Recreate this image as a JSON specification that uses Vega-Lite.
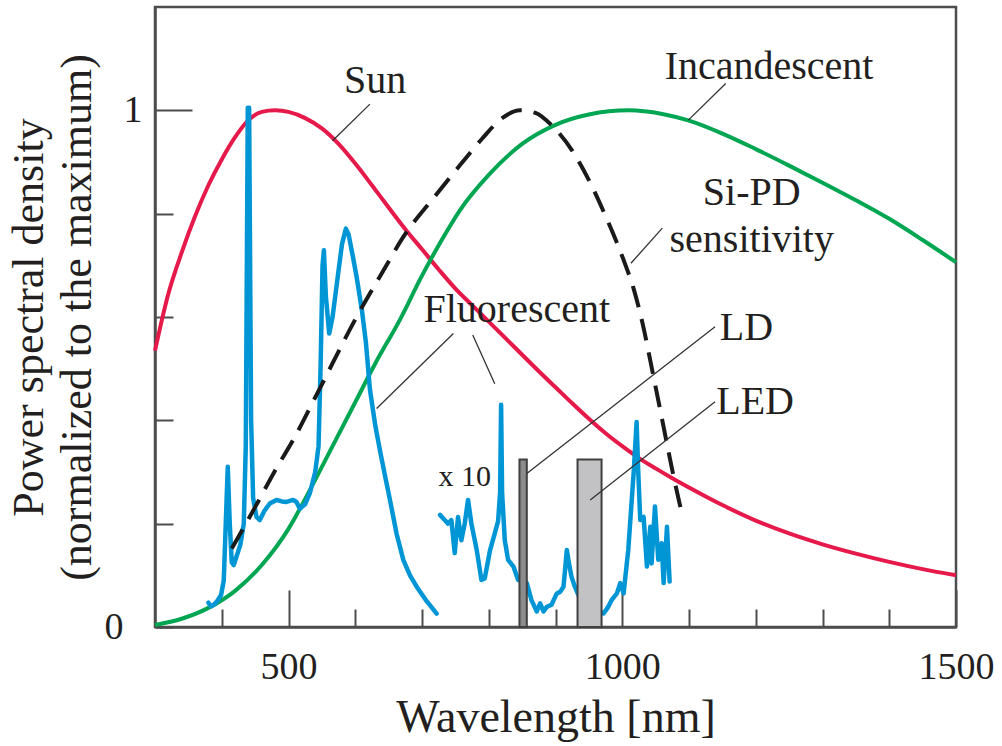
{
 "$schema": "https://vega.github.io/schema/vega-lite/v6.json",
 "width": 801, "height": 620,
 "autosize": {"type": "none"},
 "padding": {"left": 155, "top": 7, "right": 46, "bottom": 119},
 "background": "white",
 "config": {
   "view": {"stroke": "#4d4d4d", "strokeWidth": 2.5},
   "axis": {"grid": false, "domainColor": "#4d4d4d", "domainWidth": 2.5, "tickColor": "#4d4d4d", "tickWidth": 2,
     "labelFont": "Liberation Serif", "labelFontSize": 38, "labelColor": "#231f20",
     "titleFont": "Liberation Serif", "titleFontSize": 44, "titleFontWeight": "normal", "titleColor": "#231f20"}
 },
 "datasets": {
   "sun": [
     {"wl":300,"v":0.535},{"wl":320,"v":0.645},{"wl":340,"v":0.725},{"wl":360,"v":0.795},{"wl":380,"v":0.855},
     {"wl":400,"v":0.905},{"wl":420,"v":0.948},{"wl":440,"v":0.981},{"wl":460,"v":0.997},{"wl":480,"v":1.0},
     {"wl":500,"v":0.997},{"wl":525,"v":0.985},{"wl":550,"v":0.965},{"wl":575,"v":0.935},{"wl":600,"v":0.897},
     {"wl":625,"v":0.855},{"wl":650,"v":0.812},{"wl":675,"v":0.77},{"wl":700,"v":0.731},{"wl":725,"v":0.692},
     {"wl":750,"v":0.655},{"wl":775,"v":0.623},{"wl":800,"v":0.591},{"wl":825,"v":0.559},{"wl":850,"v":0.527},
     {"wl":875,"v":0.495},{"wl":900,"v":0.464},{"wl":925,"v":0.433},{"wl":950,"v":0.403},{"wl":975,"v":0.375},
     {"wl":1000,"v":0.35},{"wl":1025,"v":0.327},{"wl":1050,"v":0.307},{"wl":1075,"v":0.288},{"wl":1100,"v":0.27},
     {"wl":1150,"v":0.236},{"wl":1200,"v":0.206},{"wl":1250,"v":0.181},{"wl":1300,"v":0.16},{"wl":1350,"v":0.142},
     {"wl":1400,"v":0.126},{"wl":1450,"v":0.112},{"wl":1500,"v":0.1}
   ],
   "inc": [
     {"wl":300,"v":0.004},{"wl":340,"v":0.016},{"wl":380,"v":0.037},{"wl":420,"v":0.07},{"wl":460,"v":0.12},
     {"wl":500,"v":0.19},{"wl":530,"v":0.26},{"wl":560,"v":0.335},{"wl":600,"v":0.435},{"wl":630,"v":0.51},
     {"wl":667,"v":0.595},{"wl":700,"v":0.68},{"wl":730,"v":0.75},{"wl":757,"v":0.807},{"wl":800,"v":0.875},
     {"wl":850,"v":0.935},{"wl":900,"v":0.972},{"wl":950,"v":0.992},{"wl":1010,"v":1.0},{"wl":1060,"v":0.993},
     {"wl":1100,"v":0.98},{"wl":1150,"v":0.955},{"wl":1200,"v":0.925},{"wl":1250,"v":0.893},{"wl":1300,"v":0.86},
     {"wl":1350,"v":0.826},{"wl":1400,"v":0.79},{"wl":1450,"v":0.749},{"wl":1500,"v":0.706}
   ],
   "sipd": [
     {"wl":415,"v":0.152},{"wl":450,"v":0.232},{"wl":480,"v":0.303},{"wl":507,"v":0.362},{"wl":547,"v":0.462},
     {"wl":602,"v":0.6},{"wl":640,"v":0.685},{"wl":672,"v":0.755},{"wl":717,"v":0.83},{"wl":757,"v":0.894},
     {"wl":790,"v":0.945},{"wl":820,"v":0.985},{"wl":847,"v":1.0},{"wl":870,"v":0.995},{"wl":895,"v":0.97},
     {"wl":925,"v":0.922},{"wl":950,"v":0.865},{"wl":970,"v":0.81},{"wl":990,"v":0.75},{"wl":1005,"v":0.7},
     {"wl":1017,"v":0.655},{"wl":1030,"v":0.59},{"wl":1046,"v":0.49},{"wl":1060,"v":0.4},{"wl":1076,"v":0.297},{"wl":1091,"v":0.21}
   ],
   "fluor": [
     {"seg":"vis","wl":380,"v":0.047},{"seg":"vis","wl":384,"v":0.04},{"seg":"vis","wl":388,"v":0.043},{"seg":"vis","wl":393,"v":0.05},
     {"seg":"vis","wl":399,"v":0.062},{"seg":"vis","wl":403,"v":0.09},{"seg":"vis","wl":406,"v":0.2},{"seg":"vis","wl":409,"v":0.31},
     {"seg":"vis","wl":412,"v":0.2},{"seg":"vis","wl":415,"v":0.125},{"seg":"vis","wl":418,"v":0.12},{"seg":"vis","wl":422,"v":0.136},
     {"seg":"vis","wl":428,"v":0.16},{"seg":"vis","wl":433,"v":0.2},{"seg":"vis","wl":436,"v":0.35},{"seg":"vis","wl":439,"v":1.005},
     {"seg":"vis","wl":441,"v":1.005},{"seg":"vis","wl":444,"v":0.4},{"seg":"vis","wl":447,"v":0.25},{"seg":"vis","wl":452,"v":0.213},
     {"seg":"vis","wl":457,"v":0.207},{"seg":"vis","wl":464,"v":0.225},{"seg":"vis","wl":472,"v":0.239},{"seg":"vis","wl":482,"v":0.246},
     {"seg":"vis","wl":490,"v":0.243},{"seg":"vis","wl":497,"v":0.242},{"seg":"vis","wl":507,"v":0.246},{"seg":"vis","wl":512,"v":0.242},
     {"seg":"vis","wl":517,"v":0.229},{"seg":"vis","wl":525,"v":0.238},{"seg":"vis","wl":532,"v":0.259},{"seg":"vis","wl":540,"v":0.3},
     {"seg":"vis","wl":545,"v":0.35},{"seg":"vis","wl":548,"v":0.5},{"seg":"vis","wl":551,"v":0.7},{"seg":"vis","wl":553,"v":0.729},
     {"seg":"vis","wl":556,"v":0.64},{"seg":"vis","wl":561,"v":0.568},{"seg":"vis","wl":566,"v":0.6},{"seg":"vis","wl":573,"v":0.67},
     {"seg":"vis","wl":580,"v":0.74},{"seg":"vis","wl":586,"v":0.771},{"seg":"vis","wl":590,"v":0.76},{"seg":"vis","wl":596,"v":0.72},
     {"seg":"vis","wl":602,"v":0.678},{"seg":"vis","wl":610,"v":0.613},{"seg":"vis","wl":616,"v":0.55},{"seg":"vis","wl":622,"v":0.46},
     {"seg":"vis","wl":630,"v":0.39},{"seg":"vis","wl":637,"v":0.342},{"seg":"vis","wl":645,"v":0.29},{"seg":"vis","wl":652,"v":0.246},
     {"seg":"vis","wl":662,"v":0.18},{"seg":"vis","wl":672,"v":0.13},{"seg":"vis","wl":682,"v":0.1},{"seg":"vis","wl":692,"v":0.078},
     {"seg":"vis","wl":707,"v":0.05},{"seg":"vis","wl":722,"v":0.026},
     {"seg":"ir","wl":727,"v":0.217},{"seg":"ir","wl":734,"v":0.207},{"seg":"ir","wl":739,"v":0.2},{"seg":"ir","wl":744,"v":0.207},
     {"seg":"ir","wl":749,"v":0.143},{"seg":"ir","wl":754,"v":0.213},{"seg":"ir","wl":759,"v":0.168},{"seg":"ir","wl":764,"v":0.2},
     {"seg":"ir","wl":769,"v":0.246},{"seg":"ir","wl":774,"v":0.2},{"seg":"ir","wl":782,"v":0.149},{"seg":"ir","wl":789,"v":0.091},
     {"seg":"ir","wl":794,"v":0.094},{"seg":"ir","wl":802,"v":0.149},{"seg":"ir","wl":809,"v":0.181},{"seg":"ir","wl":814,"v":0.205},
     {"seg":"ir","wl":817,"v":0.26},{"seg":"ir","wl":818.5,"v":0.43},{"seg":"ir","wl":820,"v":0.26},{"seg":"ir","wl":824,"v":0.168},
     {"seg":"ir","wl":829,"v":0.13},{"seg":"ir","wl":837,"v":0.117},{"seg":"ir","wl":844,"v":0.091},{"seg":"ir","wl":850,"v":0.09},
     {"seg":"ir","wl":857,"v":0.085},{"seg":"ir","wl":864,"v":0.052},{"seg":"ir","wl":872,"v":0.03},{"seg":"ir","wl":877,"v":0.046},
     {"seg":"ir","wl":882,"v":0.03},{"seg":"ir","wl":887,"v":0.039},{"seg":"ir","wl":894,"v":0.043},{"seg":"ir","wl":902,"v":0.065},
     {"seg":"ir","wl":907,"v":0.068},{"seg":"ir","wl":912,"v":0.078},{"seg":"ir","wl":917,"v":0.149},{"seg":"ir","wl":921,"v":0.117},
     {"seg":"ir","wl":924,"v":0.097},{"seg":"ir","wl":929,"v":0.078},{"seg":"ir","wl":935,"v":0.06},{"seg":"ir","wl":950,"v":0.04},
     {"seg":"ir","wl":965,"v":0.03},{"seg":"ir","wl":972,"v":0.026},{"seg":"ir","wl":979,"v":0.039},{"seg":"ir","wl":984,"v":0.052},
     {"seg":"ir","wl":992,"v":0.065},{"seg":"ir","wl":997,"v":0.085},{"seg":"ir","wl":1002,"v":0.065},{"seg":"ir","wl":1009,"v":0.149},
     {"seg":"ir","wl":1017,"v":0.297},{"seg":"ir","wl":1021.5,"v":0.397},{"seg":"ir","wl":1024,"v":0.3},{"seg":"ir","wl":1027,"v":0.207},
     {"seg":"ir","wl":1032,"v":0.213},{"seg":"ir","wl":1037,"v":0.117},{"seg":"ir","wl":1042,"v":0.194},{"seg":"ir","wl":1044,"v":0.123},
     {"seg":"ir","wl":1049,"v":0.233},{"seg":"ir","wl":1054,"v":0.13},{"seg":"ir","wl":1059,"v":0.162},{"seg":"ir","wl":1062,"v":0.085},
     {"seg":"ir","wl":1067,"v":0.194},{"seg":"ir","wl":1071,"v":0.088}
   ],
   "ld": [{"wl":846,"wl2":857,"v":0.324}],
   "led": [{"wl":933,"wl2":969,"v":0.324}],
   "leaders": [
     {"wl":622,"v":1.012,"wl2":566,"v2":0.941},
     {"wl":1155,"v":1.052,"wl2":1099,"v2":0.981},
     {"wl":1060,"v":0.772,"wl2":1013,"v2":0.704},
     {"wl":747,"v":0.568,"wl2":632,"v2":0.423},
     {"wl":776,"v":0.565,"wl2":809,"v2":0.471},
     {"wl":1139,"v":0.581,"wl2":857,"v2":0.297},
     {"wl":1139,"v":0.436,"wl2":952,"v2":0.246}
   ],
   "labels": [
     {"wl":629.6,"v":1.033,"label":"Sun"},
     {"wl":1220,"v":1.061,"label":"Incandescent"},
     {"wl":1194,"v":0.816,"label":"Si-PD"},
     {"wl":1194,"v":0.725,"label":"sensitivity"},
     {"wl":842,"v":0.59,"label":"Fluorescent"},
     {"wl":1186,"v":0.555,"label":"LD"},
     {"wl":1199,"v":0.413,"label":"LED"}
   ],
   "x10": [{"wl":764,"v":0.273,"label":"x 10"}]
 },
 "encoding": {
   "x": {"field": "wl", "type": "quantitative",
     "scale": {"domain": [300, 1500], "nice": false, "zero": false},
     "axis": {"title": "Wavelength [nm]", "titleFontSize": 46, "values": [400,500,600,700,800,900,1000,1100,1200,1300,1400,1500],
       "format": "d", "labelExpr": "datum.value % 500 === 0 ? datum.label : ''",
       "tickSize": {"condition": {"test": "datum.value % 500 === 0", "value": -37}, "value": -18},
       "labelPadding": 58, "titlePadding": -10, "labelFlush": false, "labelOverlap": false}},
   "y": {"field": "v", "type": "quantitative",
     "scale": {"domain": [0, 1.2], "nice": false, "zero": false},
     "axis": {"title": ["Power spectral density", "(normalized to the maximum)"], "values": [0,0.2,0.4,0.6,0.8,1],
       "labelExpr": "datum.value === 1 ? '1' : (datum.value === 0 ? '0' : '')",
       "tickSize": {"condition": {"test": "datum.value === 1", "value": -37}, "value": -18},
       "labelPadding": 50, "titlePadding": 5, "titleLineHeight": 48, "labelOverlap": false}}
 },
 "layer": [
   {"data": {"name": "sun"}, "mark": {"type": "line", "color": "#e6194b", "strokeWidth": 4, "interpolate": "monotone"}},
   {"data": {"name": "inc"}, "mark": {"type": "line", "color": "#00a651", "strokeWidth": 4, "interpolate": "monotone"}},
   {"data": {"name": "fluor"}, "mark": {"type": "line", "color": "#0096d6", "strokeWidth": 4.5, "strokeJoin": "round", "strokeCap": "round"},
    "encoding": {"detail": {"field": "seg"}}},
   {"data": {"name": "sipd"}, "mark": {"type": "line", "color": "#1a1a1a", "strokeWidth": 4, "strokeDash": [22, 12], "interpolate": "monotone"}},
   {"data": {"name": "ld"}, "mark": {"type": "rect", "fill": "#8c8c8c", "stroke": "#404040", "strokeWidth": 2},
    "encoding": {"x2": {"field": "wl2"}, "y2": {"datum": 0}}},
   {"data": {"name": "led"}, "mark": {"type": "rect", "fill": "#c2c2c4", "stroke": "#404040", "strokeWidth": 2},
    "encoding": {"x2": {"field": "wl2"}, "y2": {"datum": 0}}},
   {"data": {"name": "leaders"}, "mark": {"type": "rule", "color": "#333333", "strokeWidth": 1.3},
    "encoding": {"x2": {"field": "wl2"}, "y2": {"field": "v2"}}},
   {"data": {"name": "labels"}, "mark": {"type": "text", "font": "Liberation Serif", "fontSize": 40, "color": "#231f20", "align": "center", "baseline": "alphabetic"},
    "encoding": {"text": {"field": "label"}}},
   {"data": {"name": "x10"}, "mark": {"type": "text", "font": "Liberation Serif", "fontSize": 30, "color": "#231f20", "align": "center", "baseline": "alphabetic"},
    "encoding": {"text": {"field": "label"}}}
 ]
}
